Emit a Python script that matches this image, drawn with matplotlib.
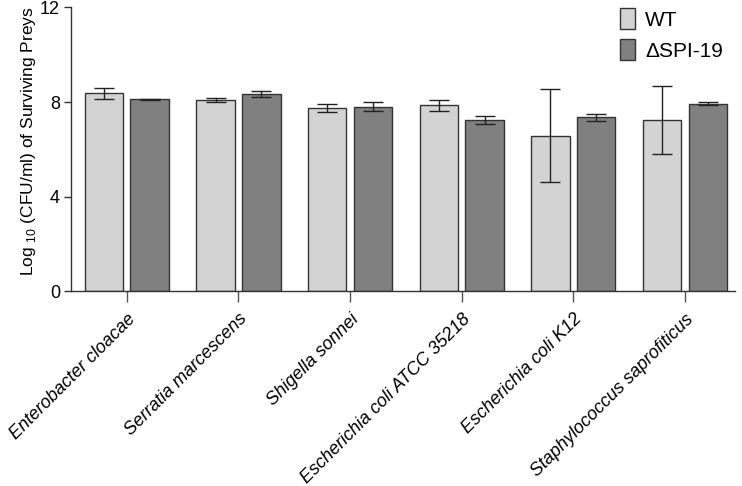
import matplotlib
matplotlib.use("Agg")
import matplotlib.pyplot as plt
import numpy as np

plt.rcParams['font.family'] = ['Liberation Sans', 'DejaVu Sans']
plt.rcParams['mathtext.fontset'] = 'custom'
plt.rcParams['mathtext.rm'] = 'Liberation Sans'

categories = ["Enterobacter cloacae", "Serratia marcescens", "Shigella sonnei",
              "Escherichia coli ATCC 35218", "Escherichia coli K12",
              "Staphylococcus saprofiticus"]
wt_values = [8.37, 8.08, 7.75, 7.86, 6.58, 7.22]
wt_errors = [0.23, 0.07, 0.17, 0.24, 1.97, 1.44]
ko_values = [8.11, 8.34, 7.80, 7.25, 7.35, 7.93]
ko_errors = [0.02, 0.11, 0.20, 0.18, 0.15, 0.06]
series_names = ["WT", "\u0394SPI-19"]
y_ticks = [0, 4, 8, 12]

fig = plt.figure(figsize=(7.42, 4.86), dpi=100)
ax = fig.add_axes([0.0957, 0.401, 0.895, 0.5836])

x = np.arange(len(categories))
w = 0.344
off = 0.205
ekw = dict(elinewidth=1.0, capthick=1.0, ecolor='#222222')
b1 = ax.bar(x - off, wt_values, w, color='#d3d3d3', edgecolor='#333333', linewidth=1.0,
            yerr=wt_errors, capsize=7, error_kw=ekw, label=series_names[0])
b2 = ax.bar(x + off, ko_values, w, color='#808080', edgecolor='#333333', linewidth=1.0,
            yerr=ko_errors, capsize=7, error_kw=ekw, label=series_names[1])

ax.set_xlim(-0.5, 5.45)
ax.set_ylim(0, 12)
ax.set_yticks(y_ticks)
ax.set_yticklabels([str(t) for t in y_ticks], fontsize=13)
ax.set_xticks(x)
ax.set_xticklabels(categories, rotation=45, ha='right', rotation_mode='anchor',
                   fontsize=13, style='italic')
ax.tick_params(axis='y', direction='out', length=5, width=1, color='#333333', pad=3)
ax.tick_params(axis='x', direction='out', length=8, width=1, color='#555555', pad=6)
for s in ['top', 'right']:
    ax.spines[s].set_visible(False)
for s in ['left', 'bottom']:
    ax.spines[s].set_color('#333333')
    ax.spines[s].set_linewidth(1)

ax.set_ylabel('Log $_{\\mathregular{10}}$ (CFU/ml) of Surviving Preys', fontsize=12.5)
ax.yaxis.set_label_coords(-0.0495, 0.53)

ax.legend(handles=[b1, b2], labels=series_names, loc='upper left',
          bbox_to_anchor=(620 / 742, 1 - 8 / 486), bbox_transform=fig.transFigure,
          frameon=False, fontsize=15, handlelength=0.7, handleheight=1.2,
          handletextpad=0.5, labelspacing=0.45, borderpad=0, borderaxespad=0)

fig.savefig('out.png', dpi=100)
